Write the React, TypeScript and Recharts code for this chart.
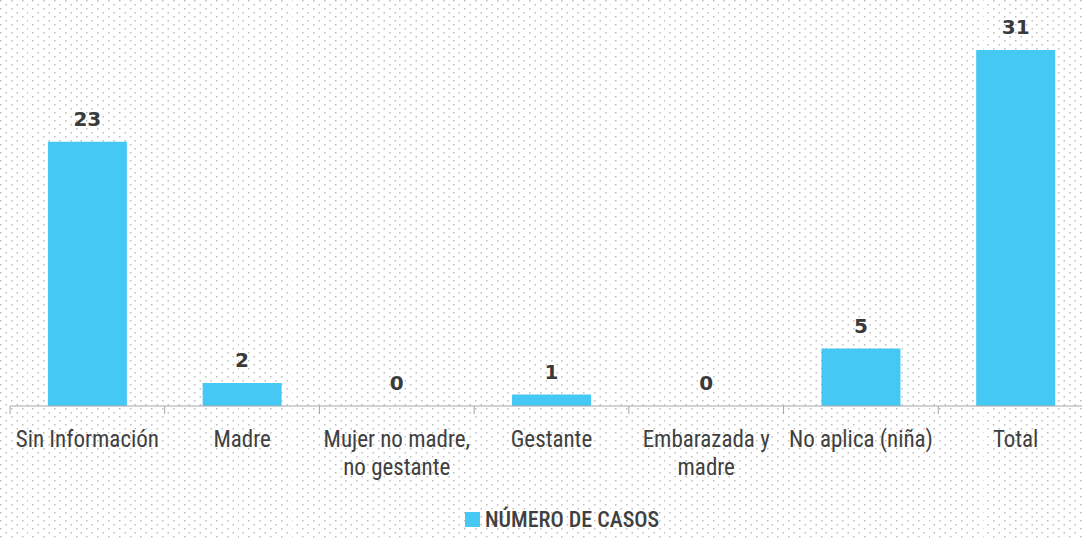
import React from 'react';
import { ComposedChart, Bar, Line, XAxis, YAxis, LabelList } from 'recharts';

const categories = [
  'Sin Información',
  'Madre',
  'Mujer no madre, no gestante',
  'Gestante',
  'Embarazada y madre',
  'No aplica (niña)',
  'Total',
];
// tick labels as they are broken over lines in the original
const tickLines = [
  ['Sin Información'],
  ['Madre'],
  ['Mujer no madre,', 'no gestante'],
  ['Gestante'],
  ['Embarazada y', 'madre'],
  ['No aplica (niña)'],
  ['Total'],
];
const casos = [23, 2, 0, 1, 0, 5, 31];
const seriesName = 'NÚMERO DE CASOS';

const data = categories.map((name, i) => ({ name, casos: casos[i] }));

const BAR_COLOR = '#45c8f4';
const TEXT_COLOR = '#404040';
const LABEL_FONT = '"Roboto Condensed", "DejaVu Sans Condensed", "DejaVu Sans", sans-serif';
const CHART_W = 1093;

const dots =
  "url(\"data:image/svg+xml;utf8,<svg xmlns='http://www.w3.org/2000/svg' width='10.8' height='8'>" +
  "<rect x='0' y='0' width='1.5' height='1.5' fill='%23bdbdbd'/>" +
  "<rect x='5.4' y='4' width='1.5' height='1.5' fill='%23bdbdbd'/></svg>\")";

const BoundaryTick = (props: any) => {
  const { x, y, index, visibleTicksCount } = props;
  const bw = (CHART_W - 10) / categories.length;
  const lines = tickLines[index] || [];
  return (
    <g>
      <line x1={x - bw / 2} y1={y - 8} x2={x - bw / 2} y2={y} stroke="#a6a6a6" />
      {index === visibleTicksCount - 1 && (
        <line x1={x + bw / 2} y1={y - 8} x2={x + bw / 2} y2={y} stroke="#a6a6a6" />
      )}
      <text
        x={x}
        y={y + 33}
        textAnchor="middle"
        fill={TEXT_COLOR}
        style={{ fontFamily: LABEL_FONT, fontStretch: 'condensed', fontSize: 23 }}
      >
        {lines.map((l, i) => (
          <tspan key={i} x={x} dy={i === 0 ? 0 : 28}>
            {l}
          </tspan>
        ))}
      </text>
    </g>
  );
};

export default function App() {
  return (
    <div
      style={{
        position: 'absolute',
        left: 0,
        top: 0,
        width: 1082,
        height: 538,
        overflow: 'hidden',
        backgroundColor: '#ffffff',
        backgroundImage: dots,
      }}
    >
      <ComposedChart
        width={CHART_W}
        height={538}
        data={data}
        margin={{ top: 50, right: 0, left: 10, bottom: 0 }}
        barCategoryGap="24.5%"
      >
        <XAxis
          dataKey="name"
          interval={0}
          axisLine={{ stroke: '#a6a6a6' }}
          tickLine={false}
          tick={<BoundaryTick />}
          height={132}
        />
        <YAxis hide domain={[0, 31]} />
        <Bar dataKey="casos" fill={BAR_COLOR} isAnimationActive={false} />
        <Line dataKey="casos" stroke="none" dot={false} activeDot={false} isAnimationActive={false}>
          <LabelList
            dataKey="casos"
            position="top"
            offset={16}
            fill="#3a3a3a"
            style={{ fontFamily: '"DejaVu Sans", sans-serif', fontSize: 20, fontWeight: 'bold' }}
          />
        </Line>
      </ComposedChart>
      <div
        style={{
          position: 'absolute',
          left: 465,
          top: 507,
          display: 'flex',
          alignItems: 'center',
          fontFamily: LABEL_FONT,
          fontStretch: 'condensed',
          fontSize: 22,
          fontWeight: 500,
          color: TEXT_COLOR,
        }}
      >
        <span style={{ width: 15, height: 15, background: BAR_COLOR, marginRight: 5, display: 'inline-block' }} />
        <span>{seriesName}</span>
      </div>
    </div>
  );
}
